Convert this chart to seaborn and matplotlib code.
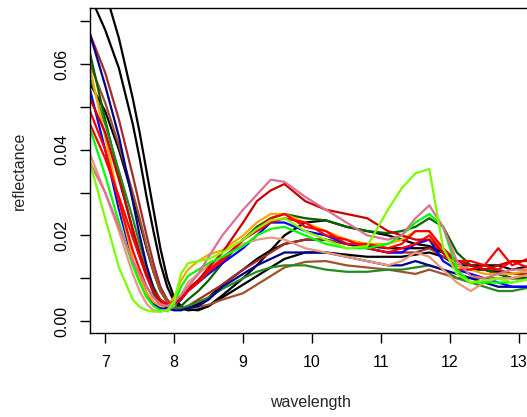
import numpy as np
import pandas as pd
import matplotlib
matplotlib.use("Agg")
import matplotlib.pyplot as plt
import seaborn as sns

# wavelength grid (micrometres)
wavelength = [6.78, 7.0, 7.2, 7.4, 7.5, 7.6, 7.7, 7.8, 7.9, 8.0, 8.1, 8.2, 8.35, 8.5, 8.7,
              9.0, 9.2, 9.4, 9.6, 9.9, 10.2, 10.5, 10.8, 11.1, 11.3, 11.5, 11.7, 11.9,
              12.1, 12.3, 12.5, 12.7, 12.9, 13.2]

# reflectance values, in thousandths
black_a = [76, 68, 59, 46, 38, 29, 21, 13.5, 8, 4.5, 3, 2.5, 2.7, 3.5, 5.5, 8.5, 10.5, 12.5, 14.5, 16, 16, 15.5, 15, 15, 15, 15.5, 16, 15, 13, 12, 12, 11, 10, 10]
black_b = [88, 77, 66, 52, 44, 35, 26, 17, 10, 5.5, 3.5, 2.7, 2.5, 3.5, 6, 10, 13, 16.5, 20, 23, 23.5, 22, 21, 20, 19, 18, 17.5, 16, 14, 13, 12, 11.5, 11, 11]
black_c = [55.5, 49, 40, 29, 23, 17, 11.5, 7, 4.5, 3.2, 2.8, 3, 4, 5.5, 8.5, 12, 14.5, 16.5, 18, 19, 19, 18, 17.5, 17, 17, 17, 17, 16, 13, 13, 13, 13, 12, 13]
brown = [67, 58, 47, 34, 27, 20, 13.5, 8, 5, 3.5, 3, 3.5, 5, 6.5, 8.5, 12, 14, 16, 18, 19, 19, 18, 17, 16, 16, 16, 17, 15, 14, 13, 12, 12, 11, 11]
sienna = [60, 51, 41, 30, 24, 17.5, 11.5, 7, 4.5, 3.2, 2.8, 3, 3.3, 3.8, 5, 6.5, 8.5, 10.5, 12.5, 13.8, 14, 13, 12.5, 12, 11.5, 11, 12, 11, 10, 10, 10, 10, 10, 11]
darkgreen = [62.5, 47, 34, 21, 15, 10.5, 6.5, 4, 3, 2.8, 3.5, 5, 7, 9.5, 13.5, 19, 22, 24, 25, 24, 23.5, 22, 21, 20.5, 21, 22, 24, 22, 16, 13, 12, 11, 10, 10]
forestgreen = [57, 46, 35, 24, 18, 12.5, 8, 5, 3.5, 3, 3, 3.5, 4.5, 5.5, 7.5, 10, 11.5, 12.5, 13, 13, 12, 11.5, 11.5, 12, 12, 12.5, 13, 12, 10, 9, 8, 7, 7, 8]
navy = [67, 55, 43, 28, 20, 13, 7.5, 4.5, 3, 2.5, 2.5, 3, 3.5, 5, 8, 11, 13, 14.5, 16, 16, 16, 15, 14, 13, 13, 14, 13, 12, 11, 10, 9, 8, 8, 8]
blue = [54, 40, 26, 14, 10, 6.5, 4, 3, 2.8, 3.5, 5, 7, 9, 11, 13.5, 17, 20, 23, 23, 21, 20, 18, 17, 16, 16, 18, 19, 14, 12, 11, 10, 9, 8, 8]
red_a = [49, 40, 28, 16.5, 12, 8, 5.5, 4, 3.5, 4, 5, 7, 9, 11.5, 14, 19, 21.5, 24, 25, 22, 21, 18, 18, 17, 18, 21, 21, 17, 14, 14, 13, 17, 13, 15]
red_b = [46, 38, 29, 19.5, 15, 10.5, 7, 5, 4, 4.5, 5.5, 7.5, 9.5, 12, 14.5, 19, 21, 23, 24, 23, 20, 19, 17, 16, 17, 18, 20, 16, 12, 12, 13, 12, 14, 12]
firebrick = [52, 44, 33, 21.5, 16, 11, 7, 4.5, 3.5, 4, 5.5, 7.5, 9.5, 12.5, 16, 23, 28, 30.5, 32, 28, 26, 25, 24, 21, 20, 19, 19, 16, 14, 13, 12, 13, 14, 14]
orange = [59, 43, 28, 14.5, 10, 6.5, 4.5, 3.5, 3.5, 5.5, 9.5, 12, 14, 15.5, 16.5, 20, 23, 25, 25, 23, 21, 19, 18, 18, 19, 21, 21, 16, 13, 12, 11, 11, 11, 12]
green = [45, 34, 23, 13, 9, 5.5, 3.5, 2.5, 2.3, 4, 8, 10.5, 12, 13.5, 15, 17.5, 20, 21.5, 22, 20, 18, 17, 17, 18, 20, 23, 25, 22, 12, 9, 9, 9, 9, 10]
lawngreen = [37, 24, 12.5, 5, 3.3, 2.5, 2.2, 2.2, 2.5, 4.5, 11, 13.5, 14, 14.5, 16, 19, 21.5, 23.5, 24, 21, 19, 17, 17.5, 26, 31, 34.5, 35.5, 17, 11, 9, 9.5, 10, 9, 10]
pink = [37, 30, 22, 14, 11, 8, 5.5, 4, 3.5, 4.5, 6, 8, 11, 15, 20, 26, 29.5, 33, 32.5, 29, 26, 23, 20, 19, 20, 24, 27, 22, 14, 10.5, 10, 11, 12, 12]
salmon = [39, 30, 21, 11, 7, 4, 2.5, 2.2, 2.5, 3.5, 6, 9, 11, 13, 15, 18, 19, 19.5, 19, 17, 16, 15, 14, 13, 14, 16, 15, 12, 9, 7, 9, 10, 10, 11]

series = {
    "black_a": black_a, "black_b": black_b, "black_c": black_c,
    "brown": brown, "sienna": sienna, "darkgreen": darkgreen,
    "forestgreen": forestgreen, "navy": navy, "blue": blue,
    "salmon": salmon, "orange": orange, "red_a": red_a, "red_b": red_b,
    "firebrick": firebrick, "green": green, "pink": pink, "lawngreen": lawngreen,
}
palette = {
    "black_a": "#000000", "black_b": "#000000", "black_c": "#000000",
    "brown": "#A52A2A", "sienna": "#A0522D", "darkgreen": "#006400",
    "forestgreen": "#228B22", "navy": "#00008B", "blue": "#0000FF",
    "salmon": "#E9967A", "orange": "#FFA500", "red_a": "#FF0000", "red_b": "#FF0000",
    "firebrick": "#CD0000", "green": "#00FF00", "pink": "#DB7093", "lawngreen": "#7CFC00",
}

rows = []
for name, vals in series.items():
    for w, v in zip(wavelength, vals):
        rows.append({"wavelength": w, "reflectance": v / 1000.0, "sample": name})
df = pd.DataFrame(rows)

sns.set_style("white")
plt.rcParams["font.family"] = ["Liberation Sans", "DejaVu Sans"]

fig = plt.figure(figsize=(5.27, 4.17), dpi=100)
ax = fig.add_axes([90 / 527, 84 / 417, 440 / 527, 325 / 417])

sns.lineplot(data=df, x="wavelength", y="reflectance", hue="sample",
             palette=palette, estimator=None, sort=False, legend=False,
             linewidth=1.6, ax=ax)

ax.set_xlim(6.78, 13.16)
ax.set_ylim(-0.0028, 0.0731)
ax.set_xticks([7, 8, 9, 10, 11, 12, 13])
ax.set_xticklabels(["7", "8", "9", "10", "11", "12", "13"])
yt = [0.0, 0.01, 0.02, 0.03, 0.04, 0.05, 0.06, 0.07]
ax.set_yticks(yt)
ax.set_yticklabels(["0.00", "", "0.02", "", "0.04", "", "0.06", ""],
                   rotation=90, va="center")
for s in ax.spines.values():
    s.set_color("black")
    s.set_linewidth(1.0)
ax.tick_params(axis="both", direction="out", length=7, width=1.0,
               colors="black", labelsize=11.5, left=True, bottom=True)
ax.tick_params(axis="x", pad=9)
ax.tick_params(axis="y", pad=8)
ax.set_xlabel("wavelength", fontsize=11.5, labelpad=18)
ax.set_ylabel("reflectance", fontsize=11.5, labelpad=20)

fig.savefig("out.png", dpi=100, facecolor="white")
